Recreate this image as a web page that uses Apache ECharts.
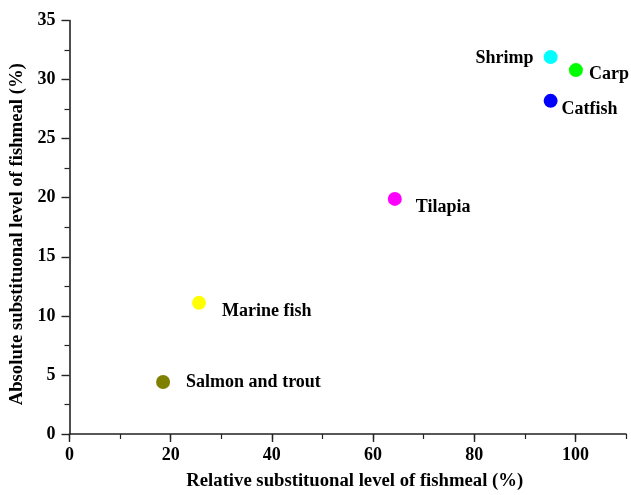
<!DOCTYPE html>
<html><head><meta charset="utf-8">
<script src="https://cdn.jsdelivr.net/npm/echarts@6/dist/echarts.min.js"></script>
<style>html,body{margin:0;padding:0;background:#fff}#c{width:631px;height:495px}</style>
</head><body><div id="c"></div>
<script>
const species = ['Salmon and trout','Marine fish','Tilapia','Shrimp','Carp','Catfish'];
const relVals = [18.5, 25.6, 64.3, 95.1, 100.1, 95.1];
const absVals = [4.4, 11.1, 19.9, 31.9, 30.8, 28.2];
const colors = ['#808000','#ffff00','#ff00ff','#00ffff','#00ff00','#0000ff'];
const xTickLabels = [0, 20, 40, 60, 80, 100];
const labelPos = ['right','right','right','left','right','right'];
const labelDist = [16, 16, 14, 10, 6, 4];
const labelOff = [[0,0],[0,8],[0,8],[0,1],[0,4],[0,9]];

const font = '"Liberation Serif","Times New Roman",serif';
const data = species.map((n,i)=>({
  name:n, value:[relVals[i], absVals[i]],
  itemStyle:{color:colors[i], opacity:1},
  label:{position:labelPos[i], distance:labelDist[i], offset:labelOff[i]}
}));
const chart = echarts.init(document.getElementById('c'), null, {renderer:'canvas'});
chart.setOption({
  animation:false,
  grid:{left:69.5, right:5, top:20.5, bottom:61, containLabel:false, outerBoundsMode:'none'},
  xAxis:[{
    type:'value', min:0, max:110, interval:20,
    name:'Relative substituonal level of fishmeal (%)', nameLocation:'middle', nameGap:38,
    nameTextStyle:{fontFamily:font, fontWeight:'bold', fontSize:18.7, color:'#000', padding:[0,0,0,14]},
    axisLine:{show:true, lineStyle:{color:'#222', width:1.6}},
    axisTick:{show:true, inside:false, length:8, lineStyle:{color:'#222', width:1.4}, customValues:xTickLabels},
    axisLabel:{fontFamily:font, fontWeight:'bold', fontSize:18, color:'#000', margin:12, customValues:xTickLabels},
    splitLine:{show:false}
  },{
    type:'value', min:0, max:110, interval:10, position:'bottom',
    axisLine:{show:false},
    axisTick:{show:true, length:5, lineStyle:{color:'#222', width:1.2}},
    axisLabel:{show:false}, splitLine:{show:false}
  }],
  yAxis:{
    type:'value', min:0, max:35, interval:5,
    name:'Absolute substituonal level of fishmeal (%)', nameLocation:'middle', nameGap:40,
    nameTextStyle:{fontFamily:font, fontWeight:'bold', fontSize:18.7, color:'#000', padding:[0,14,0,0]},
    axisLine:{show:true, lineStyle:{color:'#222', width:1.6}},
    axisTick:{show:true, length:8, lineStyle:{color:'#222', width:1.4}},
    minorTick:{show:true, splitNumber:2, length:5, lineStyle:{color:'#222', width:1.2}},
    axisLabel:{fontFamily:font, fontWeight:'bold', fontSize:18, color:'#000', margin:14},
    splitLine:{show:false}
  },
  series:[{
    type:'scatter', xAxisIndex:0, symbol:'circle', symbolSize:14, data:data,
    itemStyle:{opacity:1},
    label:{show:true, formatter:'{b}', fontFamily:font, fontWeight:'bold', fontSize:18, color:'#000', opacity:1}
  }]
});
</script></body></html>
